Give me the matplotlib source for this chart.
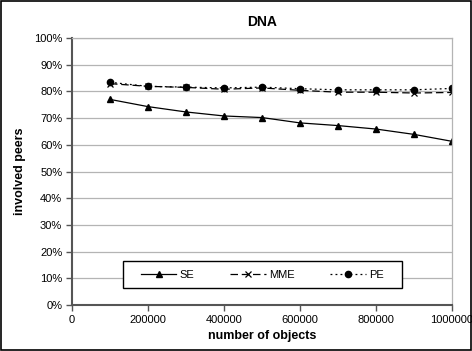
import matplotlib.pyplot as plt
from matplotlib.ticker import FuncFormatter, MultipleLocator
from matplotlib.patches import Rectangle

plt.rcParams['font.family'] = ['Liberation Sans', 'DejaVu Sans']

objects = [100000, 200000, 300000, 400000, 500000, 600000, 700000, 800000, 900000, 1000000]
se = [77.0, 74.3, 72.3, 70.8, 70.2, 68.2, 67.2, 65.9, 63.9, 61.3]
mme = [82.9, 81.9, 81.5, 80.8, 81.3, 80.4, 79.7, 79.7, 79.4, 79.6]
pe = [83.4, 81.9, 81.6, 81.3, 81.6, 81.0, 80.6, 80.6, 80.6, 81.1]

fig = plt.figure(figsize=(4.72, 3.51), dpi=100)
ax = fig.add_axes([72 / 472, 46 / 351, 380 / 472, 267 / 351])

ax.plot(objects, se, 'k-', marker='^', markersize=5, linewidth=0.9, label='SE')
ax.plot(objects, mme, 'k', linestyle=(0, (6, 3)), marker='x', markersize=5,
        markeredgewidth=0.9, linewidth=0.9, label='MME')
ax.plot(objects, pe, 'k', linestyle=(0, (1.5, 2.5)), marker='o', markersize=4.5,
        linewidth=0.9, label='PE')

ax.set_xlim(0, 1000000)
ax.set_ylim(0, 100)
ax.xaxis.set_major_locator(MultipleLocator(200000))
ax.xaxis.set_major_formatter(FuncFormatter(lambda v, p: '%d' % v))
ax.yaxis.set_major_locator(MultipleLocator(10))
ax.yaxis.set_major_formatter(FuncFormatter(lambda v, p: '%d%%' % v))
ax.grid(axis='y', color='#b4b4b4', linewidth=0.9)
ax.set_axisbelow(True)

for side in ['top', 'right']:
    ax.spines[side].set_color('#b4b4b4')
    ax.spines[side].set_linewidth(0.9)
for side in ['left', 'bottom']:
    ax.spines[side].set_color('#555555')
    ax.spines[side].set_linewidth(1.5)

ax.tick_params(axis='both', direction='out', length=4, width=1, color='#555555',
               labelsize=8, pad=3)

ax.set_title('DNA', fontsize=10, fontweight='bold', pad=9)
ax.set_xlabel('number of objects', fontsize=9, fontweight='bold', labelpad=4)
ax.set_ylabel('involved peers', fontsize=9, fontweight='bold', labelpad=6)

# legend box drawn separately so the entries can sit centred with wide margins
ax.add_patch(Rectangle((51 / 380, 17 / 267), 279 / 380, 27 / 267, transform=ax.transAxes,
                       facecolor='white', edgecolor='black', linewidth=1, zorder=4))
leg = ax.legend(loc='center', bbox_to_anchor=(0.501, 0.114), ncol=3, fontsize=8,
                frameon=False, handlelength=3.2, handletextpad=0.3, columnspacing=3.2,
                borderaxespad=0)
leg.set_zorder(5)

fig.patches.append(Rectangle((0.002, 0.003), 0.996, 0.994, transform=fig.transFigure,
                             fill=False, edgecolor='black', linewidth=1.2))

fig.savefig('out.png', dpi=100)
